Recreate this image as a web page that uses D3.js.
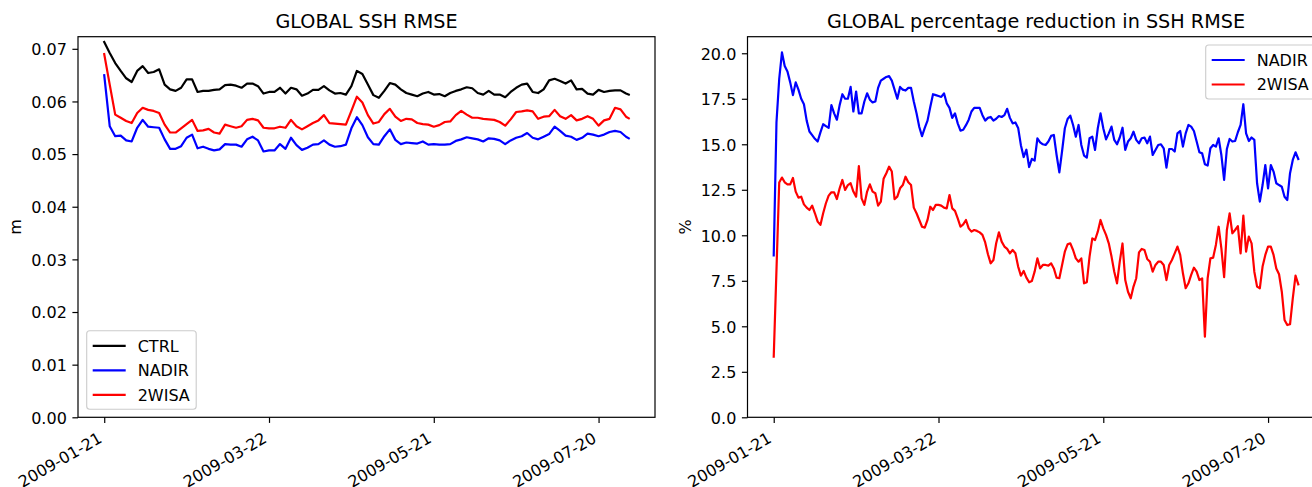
<!DOCTYPE html>
<html>
<head>
<meta charset="utf-8">
<script src="https://cdn.jsdelivr.net/npm/d3@7"></script>
<style>
  html, body { margin: 0; padding: 0; background: #ffffff; overflow: hidden; }
  svg { display: block; font-family: "DejaVu Sans", sans-serif; }
</style>
</head>
<body>
<svg id="fig" width="1312" height="487"></svg>
<script>
// ---- data -------------------------------------------------------------
const startDate = Date.UTC(2009, 0, 21);          // 2009-01-21
const lastDay = 191;                               // 2009-07-31

// RMSE panel: sampled every second day (plus the final day)
const rmseDays = d3.range(0, lastDay, 2).concat([lastDay]);
const ctrlRmse = [
  0.0713,0.0692,0.0673,0.0658,0.0644,0.0637,0.0658,0.0667,0.0654,0.0656,
  0.0661,0.0632,0.0623,0.0620,0.0626,0.0642,0.0642,0.0618,0.0620,0.0620,
  0.0622,0.0623,0.0631,0.0632,0.0630,0.0626,0.0634,0.0634,0.0629,0.0615,
  0.0618,0.0618,0.0626,0.0615,0.0626,0.0623,0.0611,0.0615,0.0622,0.0622,
  0.0629,0.0621,0.0615,0.0616,0.0613,0.0629,0.0658,0.0652,0.0632,0.0612,
  0.0607,0.0620,0.0635,0.0632,0.0623,0.0616,0.0613,0.0610,0.0615,0.0618,
  0.0613,0.0614,0.0610,0.0616,0.0620,0.0623,0.0627,0.0625,0.0616,0.0613,
  0.0620,0.0613,0.0613,0.0608,0.0618,0.0626,0.0632,0.0634,0.0618,0.0616,
  0.0623,0.0640,0.0643,0.0639,0.0634,0.0640,0.0623,0.0624,0.0615,0.0613,
  0.0622,0.0618,0.0620,0.0621,0.0621,0.0615,0.0613
];
const nadirRmse = [
  0.0650,0.0553,0.0534,0.0535,0.0526,0.0524,0.0550,0.0565,0.0552,0.0551,
  0.0550,0.0528,0.0510,0.0510,0.0515,0.0531,0.0537,0.0511,0.0514,0.0510,
  0.0507,0.0509,0.0519,0.0518,0.0518,0.0514,0.0528,0.0533,0.0526,0.0505,
  0.0507,0.0507,0.0519,0.0510,0.0531,0.0517,0.0508,0.0512,0.0518,0.0519,
  0.0526,0.0518,0.0514,0.0515,0.0518,0.0549,0.0570,0.0555,0.0532,0.0519,
  0.0518,0.0534,0.0547,0.0527,0.0519,0.0522,0.0521,0.0520,0.0524,0.0518,
  0.0519,0.0518,0.0518,0.0519,0.0525,0.0528,0.0532,0.0530,0.0528,0.0524,
  0.0530,0.0529,0.0526,0.0519,0.0526,0.0531,0.0534,0.0540,0.0531,0.0528,
  0.0533,0.0538,0.0552,0.0544,0.0535,0.0533,0.0527,0.0531,0.0539,0.0537,
  0.0534,0.0537,0.0542,0.0544,0.0542,0.0533,0.0530
];
const wisaRmse = [
  0.0690,0.0632,0.0575,0.0569,0.0563,0.0559,0.0578,0.0588,0.0584,0.0582,
  0.0578,0.0556,0.0541,0.0541,0.0549,0.0557,0.0565,0.0544,0.0545,0.0548,
  0.0541,0.0539,0.0556,0.0553,0.0550,0.0553,0.0565,0.0567,0.0564,0.0550,
  0.0549,0.0549,0.0552,0.0550,0.0565,0.0553,0.0547,0.0553,0.0559,0.0564,
  0.0574,0.0559,0.0558,0.0557,0.0556,0.0582,0.0609,0.0598,0.0574,0.0558,
  0.0561,0.0576,0.0586,0.0571,0.0563,0.0567,0.0566,0.0559,0.0557,0.0556,
  0.0552,0.0555,0.0561,0.0562,0.0574,0.0582,0.0575,0.0569,0.0569,0.0567,
  0.0566,0.0565,0.0561,0.0554,0.0566,0.0580,0.0581,0.0583,0.0581,0.0567,
  0.0571,0.0572,0.0584,0.0572,0.0567,0.0574,0.0564,0.0567,0.0572,0.0567,
  0.0554,0.0564,0.0567,0.0588,0.0585,0.0571,0.0568
];

// Percentage reduction panel: daily values
const pctDays = d3.range(0, lastDay + 1);
const nadirReduction = [
  8.9,16.2,18.6,20.05,19.3,19.0,18.4,17.7,18.4,18.0,
  17.5,17.2,16.3,15.7,15.5,15.3,15.15,15.65,16.1,16.0,
  15.9,17.15,16.7,16.35,17.15,17.75,17.5,17.5,18.15,16.8,
  17.9,16.7,16.7,17.35,17.8,17.45,17.3,17.35,18.1,18.5,
  18.6,18.7,18.75,18.5,18.0,17.5,18.15,18.0,17.95,18.1,
  18.1,17.35,16.7,15.95,15.45,15.9,16.3,17.05,17.75,17.7,
  17.65,17.6,17.8,17.25,17.0,16.45,16.7,16.15,15.75,15.8,
  16.05,16.35,16.8,17.0,17.0,17.0,16.6,16.3,16.45,16.5,
  16.3,16.4,16.55,16.5,16.6,16.95,16.45,16.15,16.2,15.9,
  14.95,14.3,14.7,13.75,14.2,14.1,15.33,15.11,15.0,14.96,
  15.15,15.46,15.51,14.41,13.46,14.63,15.88,16.39,16.57,16.06,
  15.42,16.06,14.96,14.38,14.27,15.33,15.42,14.69,15.88,16.7,
  15.88,15.27,15.6,15.97,15.24,15.0,15.37,15.91,14.69,15.15,
  15.33,15.69,15.24,15.05,15.33,15.37,15.05,15.42,14.41,14.69,
  14.96,15.0,14.78,13.72,14.74,14.74,14.6,15.6,15.73,14.87,
  15.6,16.06,15.97,15.73,15.15,14.56,14.5,13.9,13.83,14.78,
  14.96,14.87,15.33,14.41,13.04,14.74,15.29,15.15,15.18,15.66,
  16.06,17.2,15.6,15.18,15.37,15.24,12.86,11.85,12.76,13.86,
  12.58,13.86,13.5,12.86,12.76,12.67,12.12,11.94,13.41,14.14,
  14.56,14.19
];
const wisaReduction = [
  3.33,8.1,12.9,13.17,12.91,12.8,12.8,13.15,12.4,12.07,
  12.12,11.7,11.52,11.39,11.63,11.21,10.75,10.57,11.21,11.76,
  12.18,12.36,12.36,11.99,12.58,13.04,12.49,12.76,12.86,12.4,
  12.12,13.8,12.03,11.67,12.4,12.8,12.4,12.31,11.63,11.85,
  13.1,13.41,13.77,13.5,11.99,12.12,12.58,12.76,13.22,12.91,
  12.76,11.52,11.21,10.84,10.47,10.42,10.84,11.57,11.39,11.67,
  11.67,11.63,11.52,11.48,12.21,11.48,11.34,10.93,10.47,10.6,
  10.84,10.38,10.2,10.29,10.24,10.16,10.02,9.61,8.96,8.46,
  8.64,9.56,10.16,9.65,9.38,9.25,9.01,9.19,9.01,8.28,
  7.78,8.04,7.67,7.42,7.49,8.0,8.73,8.18,8.37,8.37,
  8.33,8.46,8.18,7.67,7.64,8.37,9.1,9.5,9.56,9.19,
  8.73,8.55,8.73,7.36,7.42,8.83,9.83,9.74,10.2,10.84,
  10.38,10.02,9.56,8.83,8.0,7.36,8.55,9.55,7.54,6.9,
  6.54,7.18,7.64,9.06,9.25,9.19,8.7,8.55,8.0,8.37,
  8.55,8.55,8.37,7.54,8.37,8.64,9.01,9.38,8.92,7.91,
  7.09,7.36,7.82,8.22,8.0,7.54,7.63,4.43,7.64,8.73,
  8.77,9.47,10.47,9.28,7.7,10.29,11.2,10.11,10.29,10.5,
  9.0,11.08,9.1,9.93,9.56,8.0,7.18,7.09,8.28,8.92,
  9.38,9.38,8.92,8.18,7.86,6.9,5.35,5.07,5.11,6.54,
  7.78,7.31
];

// Axis ticks
const dateTickDays = [0, 60, 120, 180];
const rmseTicks = [0, 0.01, 0.02, 0.03, 0.04, 0.05, 0.06, 0.07];
const pctTicks = [0, 2.5, 5, 7.5, 10, 12.5, 15, 17.5, 20];

// ---- helpers ----------------------------------------------------------
const dayToDate = d => new Date(startDate + d * 864e5);
const fmtDate = d3.utcFormat("%Y-%m-%d");

const TICK_FONT = 16, TITLE_FONT = 19.2;
const TICK_LEN = 5.6, TICK_PAD = 5.6;
const LINE_W = 2.2;

const svg = d3.select("#fig");
svg.append("rect").attr("width", 1312).attr("height", 487).attr("fill", "#fff");

function drawPanel(cfg) {
  const { left, top, width, height } = cfg.box;
  const bottom = top + height;
  const margin = 0.05 * lastDay;      // 5% data margin on each side

  const x = d3.scaleUtc()
    .domain([dayToDate(-margin), dayToDate(lastDay + margin)])
    .range([left, left + width]);
  const y = d3.scaleLinear().domain(cfg.yDomain).range([bottom, top]);

  const g = svg.append("g");

  // series
  const line = d3.line()
    .x(d => x(dayToDate(d[0])))
    .y(d => y(d[1]));
  cfg.series.forEach(s => {
    g.append("path")
      .datum(cfg.days.map((d, i) => [d, s.values[i]]))
      .attr("fill", "none")
      .attr("stroke", s.color)
      .attr("stroke-width", LINE_W)
      .attr("stroke-linejoin", "round")
      .attr("stroke-linecap", "square")
      .attr("d", line);
  });

  // y axis
  const yAxis = g.append("g")
    .attr("transform", `translate(${left},0)`)
    .call(d3.axisLeft(y).tickValues(cfg.yTicks).tickFormat(cfg.yFormat)
      .tickSizeInner(TICK_LEN).tickSizeOuter(0).tickPadding(TICK_PAD));
  yAxis.select(".domain").remove();
  yAxis.selectAll("line").attr("stroke", "#000").attr("stroke-width", 1.2);
  yAxis.selectAll("text")
    .attr("font-size", TICK_FONT).attr("font-family", "DejaVu Sans")
    .attr("fill", "#000").attr("dy", "0.36em");

  // x axis with rotated date labels
  const xAxis = g.append("g")
    .attr("transform", `translate(0,${bottom})`)
    .call(d3.axisBottom(x).tickValues(dateTickDays.map(dayToDate)).tickFormat(fmtDate)
      .tickSizeInner(TICK_LEN).tickSizeOuter(0));
  xAxis.select(".domain").remove();
  xAxis.selectAll("line").attr("stroke", "#000").attr("stroke-width", 1.2);
  xAxis.selectAll("text")
    .attr("font-size", TICK_FONT).attr("font-family", "DejaVu Sans")
    .attr("fill", "#000")
    .attr("text-anchor", "end")
    .attr("x", null).attr("y", null).attr("dy", null)
    .attr("transform", `translate(-1.6,${TICK_LEN + TICK_PAD + 13})  rotate(-30)`);

  // frame
  g.append("rect")
    .attr("x", left).attr("y", top).attr("width", width).attr("height", height)
    .attr("fill", "none").attr("stroke", "#000").attr("stroke-width", 1.2);

  // title
  g.append("text")
    .attr("x", left + width / 2).attr("y", top - 9)
    .attr("text-anchor", "middle")
    .attr("font-size", TITLE_FONT).attr("fill", "#000")
    .text(cfg.title);

  // y label
  g.append("text")
    .attr("transform", `translate(${cfg.yLabelX},${top + height / 2}) rotate(-90)`)
    .attr("text-anchor", "middle")
    .attr("font-size", TICK_FONT).attr("fill", "#000")
    .text(cfg.yLabel);

  // legend
  const lg = cfg.legend;
  const rowH = 24.5;
  const boxH = cfg.series.length * rowH + 5;
  const boxY = lg.anchor === "bottom" ? lg.y - boxH : lg.y;
  const leg = g.append("g");
  leg.append("rect")
    .attr("x", lg.x).attr("y", boxY).attr("width", lg.w).attr("height", boxH)
    .attr("rx", 3).attr("fill", "#fff").attr("fill-opacity", 0.8)
    .attr("stroke", "#cccccc").attr("stroke-width", 1.1);
  cfg.series.forEach((s, i) => {
    const cy = boxY + 15 + i * rowH;
    leg.append("line")
      .attr("x1", lg.x + 6).attr("x2", lg.x + 39)
      .attr("y1", cy).attr("y2", cy)
      .attr("stroke", s.color).attr("stroke-width", LINE_W);
    leg.append("text")
      .attr("x", lg.x + 51).attr("y", cy + 5.8)
      .attr("font-size", TICK_FONT).attr("fill", "#000")
      .text(s.name);
  });
}

drawPanel({
  box: { left: 78, top: 36.7, width: 577, height: 380.6 },
  days: rmseDays,
  yDomain: [0, 0.0723],
  yTicks: rmseTicks,
  yFormat: d3.format(".2f"),
  yLabel: "m",
  yLabelX: 20.5,
  title: "GLOBAL SSH RMSE",
  series: [
    { name: "CTRL", color: "#000000", values: ctrlRmse },
    { name: "NADIR", color: "#0000ff", values: nadirRmse },
    { name: "2WISA", color: "#ff0000", values: wisaRmse }
  ],
  legend: { x: 86.7, y: 409.3, w: 109.5, anchor: "bottom" }
});

drawPanel({
  box: { left: 747.5, top: 36.7, width: 577, height: 380.6 },
  days: pctDays,
  yDomain: [0, 20.91],
  yTicks: pctTicks,
  yFormat: d3.format(".1f"),
  yLabel: "%",
  yLabelX: 690.5,
  title: "GLOBAL percentage reduction in SSH RMSE",
  series: [
    { name: "NADIR", color: "#0000ff", values: nadirReduction },
    { name: "2WISA", color: "#ff0000", values: wisaReduction }
  ],
  legend: { x: 1205.7, y: 45, w: 110.5, anchor: "top" }
});
</script>
</body>
</html>
